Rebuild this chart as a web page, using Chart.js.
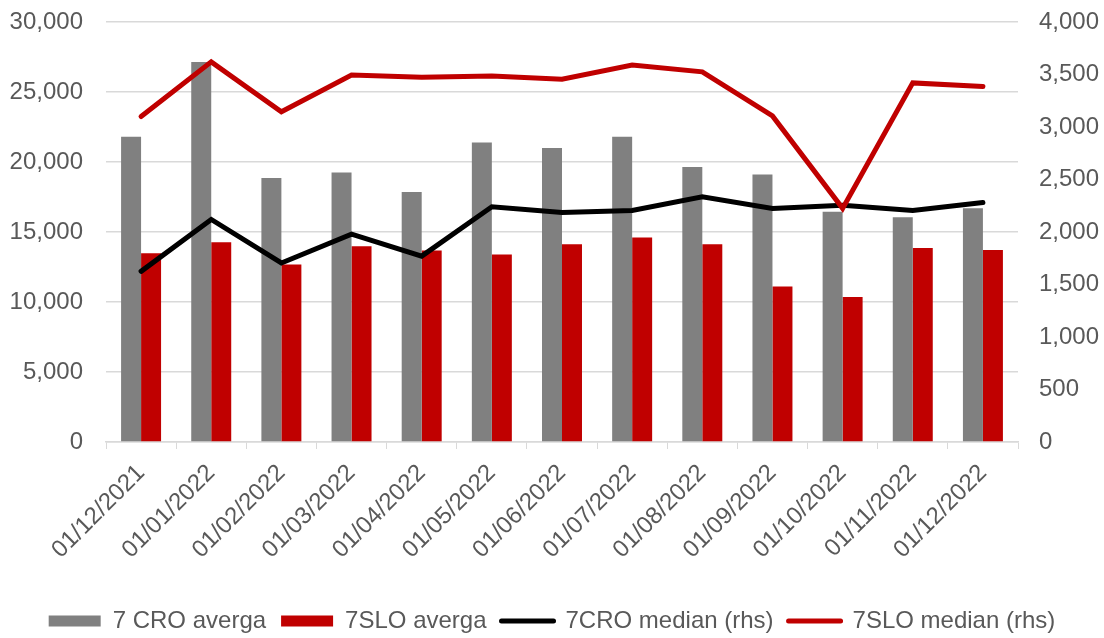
<!DOCTYPE html>
<html>
<head>
<meta charset="utf-8">
<script src="https://cdn.jsdelivr.net/npm/chart.js@4"></script>
<style>
  html, body { margin: 0; padding: 0; background: #ffffff; }
  #wrap { width: 1104px; height: 638px; }
</style>
</head>
<body>
<div id="wrap"><canvas id="medianChart" width="1104" height="638"></canvas></div>
<script>
// --- Data
const categories = ['01/12/2021', '01/01/2022', '01/02/2022', '01/03/2022', '01/04/2022', '01/05/2022',
  '01/06/2022', '01/07/2022', '01/08/2022', '01/09/2022', '01/10/2022', '01/11/2022', '01/12/2022'];
const croAverage = [21800, 27150, 18850, 19250, 17850, 21400, 21000, 21800, 19650, 19100, 16450, 16050, 16700];
const sloAverage = [13480, 14260, 12670, 13980, 13670, 13400, 14120, 14600, 14120, 11100, 10350, 13860, 13720];
const croMedian = [1625, 2120, 1705, 1980, 1770, 2240, 2185, 2205, 2335, 2225, 2255, 2205, 2280];
const sloMedian = [3100, 3620, 3145, 3495, 3475, 3485, 3455, 3590, 3525, 3105, 2225, 3420, 3385];
const leftTicks = { max: 30000, step: 5000 };
const rightTicks = { max: 4000, step: 500 };

const textColor = '#595959';
const gridColor = '#d9d9d9';
const fontFamily = '"Liberation Sans", Arial, sans-serif';

// fixed axis sizes so the plot area lands where the reference has it
function fixVertical(width) {
  return s => { s.width = width; s.paddingTop = 0; s.paddingBottom = 0; };
}

const ctx = document.getElementById('medianChart').getContext('2d');
new Chart(ctx, {
  data: {
    labels: categories,
    datasets: [
      { type: 'bar', label: '7 CRO averga', data: croAverage, backgroundColor: '#808080',
        yAxisID: 'y', order: 3, categoryPercentage: 0.57, barPercentage: 1 },
      { type: 'bar', label: '7SLO averga', data: sloAverage, backgroundColor: '#c00000',
        yAxisID: 'y', order: 3, categoryPercentage: 0.57, barPercentage: 1 },
      { type: 'line', label: '7CRO median (rhs)', data: croMedian, borderColor: '#000000',
        backgroundColor: '#000000', borderWidth: 5, pointRadius: 0, tension: 0,
        borderCapStyle: 'round', yAxisID: 'y1', order: 1 },
      { type: 'line', label: '7SLO median (rhs)', data: sloMedian, borderColor: '#c00000',
        backgroundColor: '#c00000', borderWidth: 5, pointRadius: 0, tension: 0,
        borderCapStyle: 'round', yAxisID: 'y1', order: 0 }
    ]
  },
  options: {
    responsive: false,
    animation: false,
    layout: { padding: { top: 22, left: 0, right: 0, bottom: -5 } },
    scales: {
      x: {
        offset: true,
        grid: { drawOnChartArea: false, drawTicks: true, tickLength: 7, color: gridColor, offset: true },
        border: { display: true, color: gridColor, width: 1.5 },
        ticks: { color: textColor, font: { family: fontFamily, size: 24 }, maxRotation: 45, minRotation: 45, padding: 10 },
        afterFit: s => { s.height = 152; }
      },
      y: {
        position: 'left',
        min: 0, max: leftTicks.max,
        grid: { color: gridColor, lineWidth: 1.5, drawTicks: false },
        border: { display: false },
        ticks: { stepSize: leftTicks.step, color: textColor, font: { family: fontFamily, size: 24 }, padding: 23 },
        afterFit: fixVertical(106)
      },
      y1: {
        position: 'right',
        min: 0, max: rightTicks.max,
        grid: { drawOnChartArea: false, drawTicks: false },
        border: { display: false },
        ticks: { stepSize: rightTicks.step, color: textColor, font: { family: fontFamily, size: 24 }, padding: 21 },
        afterFit: fixVertical(86)
      }
    },
    plugins: {
      tooltip: { enabled: false },
      legend: {
        position: 'bottom',
        labels: {
          usePointStyle: true,
          pointStyleWidth: 52,
          boxHeight: 11,
          padding: 15,
          color: textColor,
          font: { family: fontFamily, size: 24 },
          generateLabels: chart => chart.data.datasets.map((ds, i) => ({
            text: ds.label,
            fillStyle: ds.backgroundColor,
            strokeStyle: ds.type === 'line' ? ds.borderColor : ds.backgroundColor,
            lineWidth: ds.type === 'line' ? 5 : 0,
            lineCap: 'round',
            pointStyle: ds.type === 'line' ? 'line' : 'rect',
            fontColor: textColor,
            hidden: false,
            datasetIndex: i
          }))
        }
      }
    }
  }
});
</script>
</body>
</html>
